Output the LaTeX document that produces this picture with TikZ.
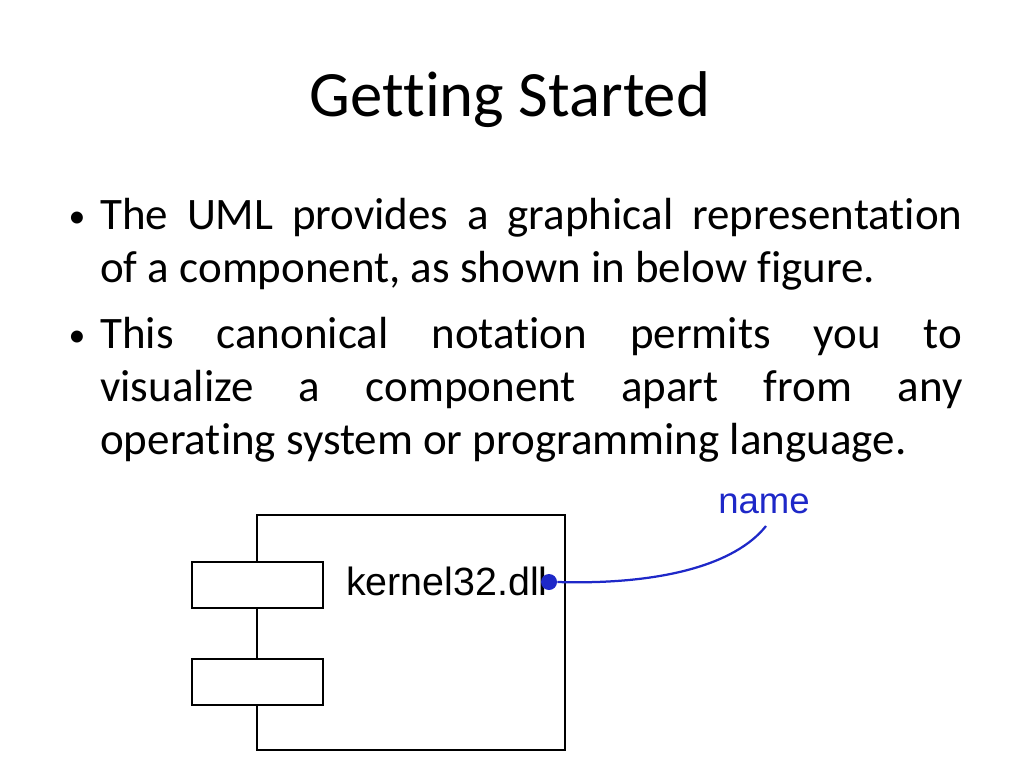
\documentclass[tikz,border=0pt]{standalone}
\usepackage{fontspec}
\setmainfont{Carlito}[Ligatures={NoCommon}]
\newfontfamily\arialfont{Liberation Sans}
\usetikzlibrary{positioning}
\definecolor{portblue}{RGB}{30,40,200}

\begin{document}
\begin{tikzpicture}[x=0.025cm, y=-0.025cm,
    txt/.style={anchor=base west, inner sep=0pt, font=\fontsize{32}{38}\selectfont},
    box/.style={draw, line width=1.6pt, inner sep=0pt}]
  \useasboundingbox (0,0) rectangle (1024,768);
  \node (title) [anchor=base, inner sep=0pt, font=\fontsize{46}{54}\selectfont] at (510,117) {Getting Started};

  \node (b1) [txt, anchor=base, font=\fontsize{24}{30}\selectfont] at (77,227) {\textbullet};
  \node (l1) [txt] at (100,229) {\makebox[21.55cm][s]{The UML provides a graphical representation}};
  \node (l2) [txt] at (100,282) {of a component, as shown in below figure.};
  \node (b2) [txt, anchor=base, font=\fontsize{24}{30}\selectfont] at (77,346) {\textbullet};
  \node (l3) [txt] at (100,348) {\makebox[21.55cm][s]{This canonical notation permits you to}};
  \node (l4) [txt] at (100,401) {\makebox[21.55cm][s]{visualize a component apart from any}};
  \node (l5) [txt] at (100,454) {operating system or programming language.};

  % component
  \draw [box] (257,515) rectangle (565,750);
  \draw [box, fill=white] (192,562) rectangle (323,608);
  \draw [box, fill=white] (192,659) rectangle (323,705);
  \node (label) [anchor=base west, inner sep=0pt, font=\arialfont\fontsize{28}{32}\selectfont] at (346,595) {kernel32.dll};
  \node (dot) [circle, fill=portblue, inner sep=0pt, minimum size=0.4cm] at (549,582) {};
  \node (name) [anchor=base, inner sep=0pt, text=portblue, font=\arialfont\fontsize{26}{30}\selectfont] at (764,513) {name};
  \coordinate (tip) at (766,526);
  \draw [portblue, line width=1.6pt] (dot.east) .. controls (660,585) and (735,565) .. (tip);
\end{tikzpicture}
\end{document}
